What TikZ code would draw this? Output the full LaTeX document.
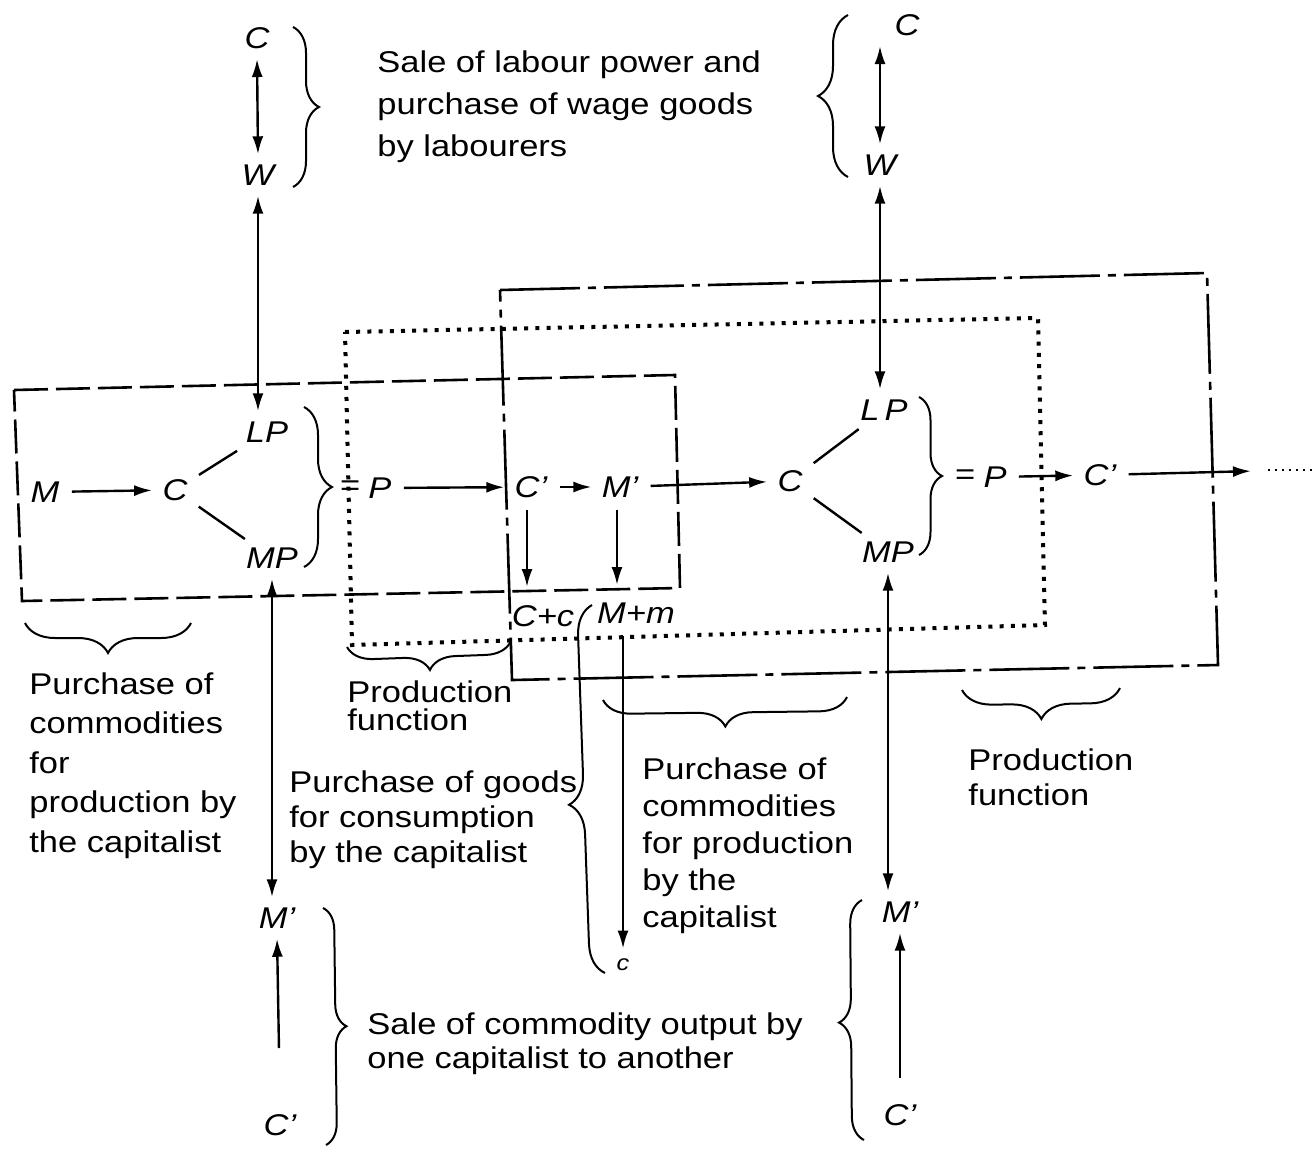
\documentclass[tikz,border=0pt]{standalone}
\usepackage{fontspec}
\setmainfont{Liberation Sans}[FakeStretch=1.15]
\usetikzlibrary{arrows.meta,decorations.pathreplacing}
\begin{document}
\begin{tikzpicture}[x=0.5pt,y=-0.5pt,
  lbl/.style={font=\fontsize{15}{18}\selectfont\itshape, inner sep=3pt},
  txt/.style={anchor=north west, inner sep=0pt, align=left},
  arr/.style={-{Latex[length=9pt,width=5.5pt]}, line width=1.2pt, shorten <=3pt, shorten >=2pt},
  dar/.style={{Latex[length=9pt,width=5.5pt]}-{Latex[length=9pt,width=5.5pt]}, line width=1.2pt, shorten <=2pt, shorten >=2pt},
  ln/.style={line width=1.2pt, shorten <=3pt, shorten >=2pt},
  dashbox/.style={line width=1.3pt, dash pattern=on 17pt off 4pt},
  dotbox/.style={line width=2pt, dash pattern=on 2pt off 3.6pt},
  ddbox/.style={line width=1.3pt, dash pattern=on 40pt off 4pt on 4pt off 4pt},
  brc/.style={decorate, decoration={brace, amplitude=13pt}, line width=1pt},
]
\useasboundingbox (0,0) rectangle (1316,1152);

% boxes
\draw[dashbox] (14,390) -- (675,375) -- (680,588) -- (22,601) -- cycle;
\draw[dotbox] (345,332) -- (1038,318) -- (1045,625) -- (352,645) -- cycle;
\draw[ddbox] (500,290) -- (1207,273) -- (1218,665) -- (512,680) -- cycle;

% labels
\node[lbl] (Ctl) at (257,38) {C};
\node[lbl] (Wtl) at (258,175) {W};
\node[lbl] (Ctr) at (907,25) {C};
\node[lbl] (Wtr) at (880,165) {W};
\node[lbl] (M) at (45,492) {M};
\node[lbl] (C1) at (175,490) {C};
\node[lbl] (LP1) at (267,432) {LP};
\node[lbl] (MP1) at (272,558) {MP};
\node[lbl] (P1) at (380,488) {P};
\node[lbl,anchor=east,inner sep=1pt] (eq1) at (P1.west) {=};
\node[lbl] (Cp1) at (531,487) {C'};
\node[lbl] (Mp1) at (620,487) {M'};
\node[lbl] (C2) at (790,481) {C};
\node[lbl] (LP2) at (884,410) {L\,P};
\node[lbl] (MP2) at (888,552) {MP};
\node[lbl] (P2) at (995,477) {P};
\node[lbl,anchor=east,inner sep=1pt] (eq2) at (P2.west) {=};
\node[lbl] (Cp2) at (1100,475) {C'};
\coordinate (endA) at (1255,471);
\coordinate (dotsA) at (1268,470);
\coordinate (dotsB) at (1316,470);
\node[lbl] (Cpc) at (543,616) {C+c};
\node[lbl] (Mpm) at (636,613) {M+m};
\node[lbl,font=\fontsize{11}{13}\selectfont\itshape] (cs) at (623,965) {c};
\node[lbl] (Mp3) at (277,918) {M'};
\node[lbl] (Cp3) at (280,1125) {C'};
\node[lbl] (Mp4) at (900,912) {M'};
\node[lbl] (Cp4) at (900,1115) {C'};

% connectors
\draw[dar] (Ctl.south) -- (Wtl.north);
\draw[dar] (Wtl.south) -- (Wtl.south |- LP1.north);
\draw[arr] (M) -- (C1);
\draw[ln] (C1) -- (LP1);
\draw[ln] (C1) -- (MP1);
\draw[arr] (P1) -- (Cp1);
\draw[arr] (Cp1) -- (Mp1);
\draw[arr] (Mp1) -- (C2);
\draw[ln] (C2) -- (LP2);
\draw[ln] (C2) -- (MP2);
\draw[arr] (P2) -- (Cp2);
\draw[arr] (Cp2) -- (endA);
\draw[line width=0.8pt, dash pattern=on 1pt off 2.5pt] (dotsA) -- (dotsB);
\coordinate (b1) at (527,591);
\coordinate (b2) at (617,589);
\draw[arr] (b1 |- Cp1.south) -- (b1);
\draw[arr] (b2 |- Mp1.south) -- (b2);
\draw[arr] (cs |- Mpm.south) -- (cs.north);
\draw[dar] (MP1.south) -- (MP1.south |- Mp3.north);
\draw[arr, shorten <=30pt] (Cp3.north) -- (Mp3.south);
\draw[dar] (MP2.south) -- (MP2.south |- Mp4.north);
\draw[arr, shorten <=10pt] (Cp4.north) -- (Mp4.south);
\draw[dar] (Wtr.north) -- (Wtr.north |- Ctr.south);
\draw[dar] (Wtr.south) -- (Wtr.south |- LP2.north);

% braces
\draw[brc] (293,27) -- (293,187);
\draw[brc, decoration={amplitude=15pt}] (848,177) -- (848,15);
\draw[brc, decoration={amplitude=14pt}] (304,407) -- (304,567);
\draw[brc, decoration={amplitude=11.5pt}] (919,397) -- (919,555);
\draw[brc, decoration={amplitude=15pt}] (191,623) -- (25,623);
\draw[brc] (511,641) -- (347,647);
\draw[brc, decoration={amplitude=14pt}] (847,697) -- (603,700);
\draw[brc, decoration={amplitude=15pt}] (1120,688) -- (962,690);
\draw[brc, decoration={amplitude=15pt, aspect=0.46}] (605,973) -- (592,605);
\draw[brc, decoration={amplitude=11pt}] (323,908) -- (326,1145);
\draw[brc, decoration={amplitude=12pt, aspect=0.49}] (864,1140) -- (862,900);

% texts
\node[txt, font=\fontsize{15}{21}\selectfont] (t1) at (377,50) {Sale of labour power and\\purchase of wage goods\\by labourers};
\node[txt, font=\fontsize{15}{19.75}\selectfont] (t2) at (29,672) {Purchase of\\commodities\\for\\production by\\the capitalist};
\node[txt, font=\fontsize{15}{14}\selectfont] (t3) at (347,680) {Production\\function};
\node[txt, font=\fontsize{15}{17.5}\selectfont] (t4) at (289,770) {Purchase of goods\\for consumption\\by the capitalist};
\node[txt, font=\fontsize{15}{18.5}\selectfont] (t5) at (642,757) {Purchase of\\commodities\\for production\\by the\\capitalist};
\node[txt, font=\fontsize{15}{17.5}\selectfont] (t6) at (968,748) {Production\\function};
\node[txt, font=\fontsize{15}{17}\selectfont] (t7) at (367,1012) {Sale of commodity output by\\one capitalist to another};
\end{tikzpicture}
\end{document}
